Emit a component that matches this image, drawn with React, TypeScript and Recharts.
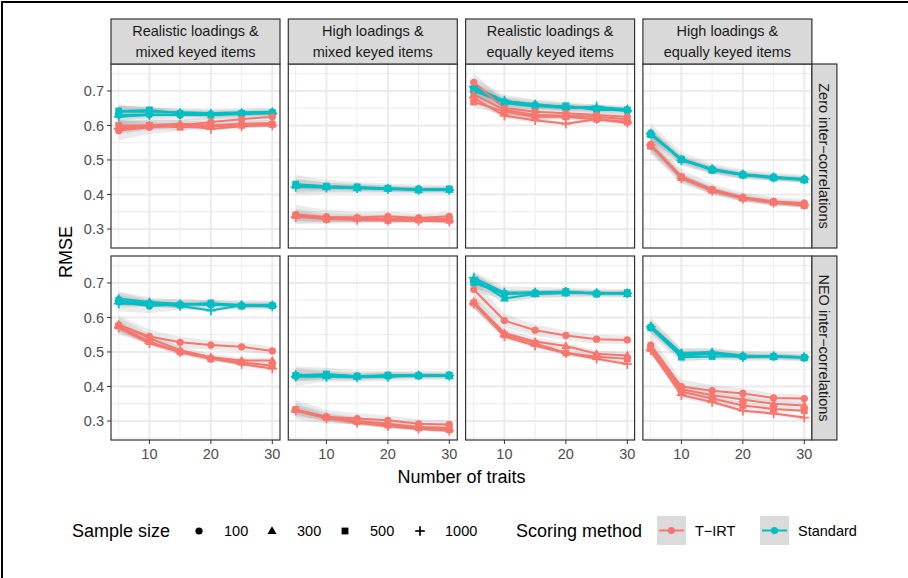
import React from "react";
import { Area, CartesianGrid, ComposedChart, Line, XAxis, YAxis } from "recharts";

const traitCounts = [5, 10, 15, 20, 25, 30];
const sampleSizes = ["100", "300", "500", "1000"];
const scoringMethods = ["T−IRT", "Standard"];
const columnLabels = [
    ["Realistic loadings &", "mixed keyed items"],
    ["High loadings &", "mixed keyed items"],
    ["Realistic loadings &", "equally keyed items"],
    ["High loadings &", "equally keyed items"],
];
const rowLabels = ["Zero inter−correlations", "NEO inter−correlations"];
const yTicks = [0.3, 0.4, 0.5, 0.6, 0.7];
const yMinorTicks = [0.25, 0.35, 0.45, 0.55, 0.65, 0.75];
const xTicks = [10, 20, 30];
const xMinorTicks = [5, 15, 25];

// rows: sample size 100, 300, 500, 1000 ; columns: traitCounts
const zeroRealMixedTirt = [
    [0.585, 0.595, 0.600, 0.610, 0.618, 0.625],
    [0.595, 0.600, 0.605, 0.600, 0.605, 0.607],
    [0.600, 0.600, 0.595, 0.598, 0.600, 0.603],
    [0.590, 0.598, 0.602, 0.590, 0.598, 0.600],
];
const zeroRealMixedStd = [
    [0.630, 0.632, 0.630, 0.632, 0.635, 0.638],
    [0.640, 0.640, 0.638, 0.636, 0.638, 0.640],
    [0.642, 0.645, 0.635, 0.630, 0.635, 0.637],
    [0.625, 0.630, 0.632, 0.630, 0.633, 0.635],
];
const zeroHighMixedTirt = [
    [0.342, 0.335, 0.333, 0.337, 0.332, 0.337],
    [0.338, 0.333, 0.332, 0.330, 0.330, 0.330],
    [0.340, 0.328, 0.330, 0.325, 0.326, 0.325],
    [0.335, 0.330, 0.326, 0.325, 0.324, 0.322],
];
const zeroHighMixedStd = [
    [0.428, 0.423, 0.420, 0.418, 0.416, 0.415],
    [0.425, 0.421, 0.418, 0.417, 0.414, 0.414],
    [0.430, 0.424, 0.422, 0.418, 0.413, 0.416],
    [0.422, 0.420, 0.418, 0.415, 0.414, 0.413],
];
const zeroRealEqualTirt = [
    [0.725, 0.650, 0.640, 0.635, 0.630, 0.625],
    [0.690, 0.645, 0.630, 0.628, 0.625, 0.618],
    [0.668, 0.640, 0.625, 0.625, 0.618, 0.610],
    [0.680, 0.628, 0.615, 0.605, 0.618, 0.608],
];
const zeroRealEqualStd = [
    [0.710, 0.668, 0.660, 0.655, 0.648, 0.642],
    [0.705, 0.670, 0.662, 0.652, 0.652, 0.648],
    [0.700, 0.665, 0.655, 0.657, 0.645, 0.645],
    [0.712, 0.672, 0.658, 0.650, 0.655, 0.643],
];
const zeroHighEqualTirt = [
    [0.545, 0.452, 0.415, 0.392, 0.380, 0.375],
    [0.542, 0.448, 0.412, 0.390, 0.378, 0.372],
    [0.540, 0.450, 0.413, 0.389, 0.377, 0.368],
    [0.543, 0.447, 0.410, 0.388, 0.376, 0.370],
];
const zeroHighEqualStd = [
    [0.578, 0.503, 0.474, 0.459, 0.451, 0.445],
    [0.575, 0.500, 0.472, 0.457, 0.450, 0.443],
    [0.573, 0.502, 0.470, 0.456, 0.448, 0.442],
    [0.576, 0.499, 0.473, 0.458, 0.449, 0.444],
];
const neoRealMixedTirt = [
    [0.578, 0.545, 0.528, 0.520, 0.515, 0.503],
    [0.580, 0.540, 0.505, 0.485, 0.475, 0.475],
    [0.575, 0.530, 0.500, 0.480, 0.470, 0.460],
    [0.570, 0.525, 0.500, 0.482, 0.465, 0.452],
];
const neoRealMixedStd = [
    [0.645, 0.633, 0.638, 0.636, 0.635, 0.635],
    [0.655, 0.645, 0.640, 0.640, 0.637, 0.637],
    [0.650, 0.640, 0.636, 0.642, 0.633, 0.634],
    [0.640, 0.640, 0.633, 0.620, 0.635, 0.632],
];
const neoHighMixedTirt = [
    [0.333, 0.312, 0.307, 0.302, 0.292, 0.290],
    [0.332, 0.312, 0.300, 0.292, 0.283, 0.280],
    [0.333, 0.310, 0.298, 0.288, 0.280, 0.275],
    [0.330, 0.308, 0.295, 0.285, 0.277, 0.272],
];
const neoHighMixedStd = [
    [0.430, 0.434, 0.430, 0.430, 0.432, 0.432],
    [0.435, 0.430, 0.428, 0.432, 0.433, 0.430],
    [0.432, 0.436, 0.430, 0.433, 0.431, 0.433],
    [0.428, 0.428, 0.427, 0.428, 0.432, 0.431],
];
const neoRealEqualTirt = [
    [0.681, 0.591, 0.563, 0.548, 0.537, 0.535],
    [0.645, 0.555, 0.530, 0.517, 0.495, 0.490],
    [0.642, 0.550, 0.525, 0.497, 0.486, 0.480],
    [0.640, 0.545, 0.518, 0.497, 0.480, 0.465],
];
const neoRealEqualStd = [
    [0.705, 0.670, 0.672, 0.672, 0.670, 0.670],
    [0.712, 0.655, 0.668, 0.670, 0.672, 0.668],
    [0.700, 0.668, 0.670, 0.675, 0.668, 0.672],
    [0.715, 0.672, 0.672, 0.674, 0.670, 0.670],
];
const neoHighEqualTirt = [
    [0.520, 0.400, 0.388, 0.380, 0.367, 0.365],
    [0.515, 0.392, 0.375, 0.362, 0.350, 0.345],
    [0.510, 0.385, 0.365, 0.345, 0.335, 0.330],
    [0.505, 0.375, 0.355, 0.330, 0.322, 0.310],
];
const neoHighEqualStd = [
    [0.572, 0.490, 0.495, 0.488, 0.488, 0.485],
    [0.575, 0.497, 0.500, 0.490, 0.487, 0.484],
    [0.570, 0.485, 0.487, 0.487, 0.486, 0.483],
    [0.573, 0.495, 0.497, 0.485, 0.488, 0.485],
];

// half width of the grey bands, by sample size
const ribbonHalfWidth = [
    [0.028, 0.020, 0.016, 0.014, 0.013, 0.012],
    [0.020, 0.013, 0.011, 0.010, 0.009, 0.009],
    [0.015, 0.010, 0.009, 0.008, 0.007, 0.007],
    [0.012, 0.008, 0.007, 0.006, 0.006, 0.006],
];

const panels = [
    { row: 0, col: 0, tirt: zeroRealMixedTirt, std: zeroRealMixedStd },
    { row: 0, col: 1, tirt: zeroHighMixedTirt, std: zeroHighMixedStd },
    { row: 0, col: 2, tirt: zeroRealEqualTirt, std: zeroRealEqualStd },
    { row: 0, col: 3, tirt: zeroHighEqualTirt, std: zeroHighEqualStd },
    { row: 1, col: 0, tirt: neoRealMixedTirt, std: neoRealMixedStd },
    { row: 1, col: 1, tirt: neoHighMixedTirt, std: neoHighMixedStd },
    { row: 1, col: 2, tirt: neoRealEqualTirt, std: neoRealEqualStd },
    { row: 1, col: 3, tirt: neoHighEqualTirt, std: neoHighEqualStd },
];

const RED = "#F8766D";
const TEAL = "#00BFC4";
const FONT = "'Liberation Sans', Arial, Helvetica, sans-serif";

const PANEL_LEFT = 111;
const PANEL_STEP = 177.3;
const PANEL_W = 169;
const PANEL_TOP = 64;
const ROW_STEP = 192;
const PANEL_H = 184;
const STRIP_H = 45;
const SIDE_STRIP_W = 25;
const Y_AXIS_W = 36;
const X_AXIS_H = 28;
const LINE_W = 2;

const Marker = ({ shape, cx, cy, color }: { shape: number; cx: number; cy: number; color: string }) => {
    if (shape === 0) return <circle cx={cx} cy={cy} r={3.6} fill={color} />;
    if (shape === 1)
        return <polygon points={`${cx},${cy - 4.8} ${cx + 4.5},${cy + 3} ${cx - 4.5},${cy + 3}`} fill={color} />;
    if (shape === 2) return <rect x={cx - 3.4} y={cy - 3.4} width={6.8} height={6.8} fill={color} />;
    return (
        <g stroke={color} strokeWidth={1.7}>
            <line x1={cx - 4.8} x2={cx + 4.8} y1={cy} y2={cy} />
            <line x1={cx} x2={cx} y1={cy - 4.8} y2={cy + 4.8} />
        </g>
    );
};

const makeDot = (shape: number, color: string) => (props: any) => {
    const { cx, cy, index } = props;
    if (cx == null || cy == null) return <g key={`d-${index}`} />;
    return (
        <g key={`d-${index}`}>
            <Marker shape={shape} cx={cx} cy={cy} color={color} />
        </g>
    );
};

const Panel = ({ row, col, tirt, std }: any) => {
    const showY = col === 0;
    const showX = row === 1;
    const yw = showY ? Y_AXIS_W : 0;
    const xh = showX ? X_AXIS_H : 0;

    const data = traitCounts.map((x, i) => {
        const d: any = { x };
        sampleSizes.forEach((s, k) => {
            const h = ribbonHalfWidth[k][i];
            d[`t${s}`] = tirt[k][i];
            d[`s${s}`] = std[k][i];
            d[`tr${s}`] = [tirt[k][i] - h, tirt[k][i] + h];
            d[`sr${s}`] = [std[k][i] - h, std[k][i] + h];
        });
        return d;
    });

    return (
        <div style={{ position: "absolute", left: PANEL_LEFT + col * PANEL_STEP - yw, top: PANEL_TOP + row * ROW_STEP }}>
            <ComposedChart
                width={PANEL_W + yw}
                height={PANEL_H + xh}
                data={data}
                margin={{ top: 0, right: 0, bottom: 0, left: 0 }}
            >
                <CartesianGrid
                    horizontalValues={yMinorTicks}
                    verticalValues={xMinorTicks}
                    stroke="#EDEDED"
                    strokeWidth={1}
                />
                <CartesianGrid horizontalValues={yTicks} verticalValues={xTicks} stroke="#EBEBEB" strokeWidth={2} />
                <XAxis
                    type="number"
                    dataKey="x"
                    domain={[3.75, 31.25]}
                    ticks={xTicks}
                    hide={!showX}
                    height={xh}
                    axisLine={false}
                    tickSize={4}
                    tickMargin={5}
                    tickLine={{ stroke: "#333333" }}
                    tick={{ fill: "#4D4D4D", fontSize: 14.5 }}
                    allowDataOverflow
                />
                <YAxis
                    type="number"
                    domain={[0.245, 0.778]}
                    ticks={yTicks}
                    hide={!showY}
                    width={yw}
                    axisLine={false}
                    tickSize={4}
                    tickMargin={3}
                    tickLine={{ stroke: "#333333" }}
                    tick={{ fill: "#4D4D4D", fontSize: 14.5 }}
                    tickFormatter={(v: number) => v.toFixed(1)}
                    allowDataOverflow
                />
                {sampleSizes.map((s) => (
                    <Area
                        key={`sr${s}`}
                        type="linear"
                        dataKey={`sr${s}`}
                        stroke="none"
                        fill="#999999"
                        fillOpacity={0.2}
                        isAnimationActive={false}
                        activeDot={false}
                    />
                ))}
                {sampleSizes.map((s) => (
                    <Area
                        key={`tr${s}`}
                        type="linear"
                        dataKey={`tr${s}`}
                        stroke="none"
                        fill="#999999"
                        fillOpacity={0.2}
                        isAnimationActive={false}
                        activeDot={false}
                    />
                ))}
                {sampleSizes.map((s, k) => (
                    <Line
                        key={`s${s}`}
                        type="linear"
                        dataKey={`s${s}`}
                        stroke={TEAL}
                        strokeWidth={LINE_W}
                        dot={makeDot(k, TEAL)}
                        activeDot={false}
                        isAnimationActive={false}
                    />
                ))}
                {sampleSizes.map((s, k) => (
                    <Line
                        key={`t${s}`}
                        type="linear"
                        dataKey={`t${s}`}
                        stroke={RED}
                        strokeWidth={LINE_W}
                        dot={makeDot(k, RED)}
                        activeDot={false}
                        isAnimationActive={false}
                    />
                ))}
            </ComposedChart>
        </div>
    );
};

const legendSizeX = [199, 272, 345, 420];
const legendSizeTextX = [224, 297, 370, 445];

const Overlay = () => {
    const lastRight = PANEL_LEFT + 3 * PANEL_STEP + PANEL_W;
    const plotMidX = (PANEL_LEFT + lastRight) / 2;
    const plotMidY = PANEL_TOP + (ROW_STEP + PANEL_H) / 2;
    return (
        <svg
            width={908}
            height={578}
            style={{ position: "absolute", left: 0, top: 0, pointerEvents: "none" }}
            fontFamily={FONT}
        >
            {panels.map((p) => (
                <rect
                    key={`b${p.row}${p.col}`}
                    x={PANEL_LEFT + p.col * PANEL_STEP}
                    y={PANEL_TOP + p.row * ROW_STEP}
                    width={PANEL_W}
                    height={PANEL_H}
                    fill="none"
                    stroke="#333333"
                    strokeWidth={1.2}
                />
            ))}
            {columnLabels.map((lines, c) => {
                const x = PANEL_LEFT + c * PANEL_STEP;
                return (
                    <g key={`cs${c}`}>
                        <rect
                            x={x}
                            y={PANEL_TOP - STRIP_H}
                            width={PANEL_W}
                            height={STRIP_H}
                            fill="#D9D9D9"
                            stroke="#333333"
                            strokeWidth={1.2}
                        />
                        {lines.map((t, i) => (
                            <text
                                key={i}
                                x={x + PANEL_W / 2}
                                y={PANEL_TOP - STRIP_H + 12 + i * 21}
                                textAnchor="middle"
                                dominantBaseline="central"
                                fontSize={14.5}
                                fill="#1A1A1A"
                            >
                                {t}
                            </text>
                        ))}
                    </g>
                );
            })}
            {rowLabels.map((t, r) => {
                const y = PANEL_TOP + r * ROW_STEP;
                return (
                    <g key={`rs${r}`}>
                        <rect
                            x={lastRight}
                            y={y}
                            width={SIDE_STRIP_W}
                            height={PANEL_H}
                            fill="#D9D9D9"
                            stroke="#333333"
                            strokeWidth={1.2}
                        />
                        <text
                            transform={`translate(${lastRight + SIDE_STRIP_W / 2}, ${y + PANEL_H / 2}) rotate(90)`}
                            textAnchor="middle"
                            dominantBaseline="central"
                            fontSize={14.5}
                            fill="#1A1A1A"
                        >
                            {t}
                        </text>
                    </g>
                );
            })}
            <text
                transform={`translate(66, ${plotMidY}) rotate(-90)`}
                textAnchor="middle"
                dominantBaseline="central"
                fontSize={18}
                fill="#000"
            >
                RMSE
            </text>
            <text x={plotMidX} y={477} textAnchor="middle" dominantBaseline="central" fontSize={18} fill="#000">
                Number of traits
            </text>

            <text x={72} y={531} dominantBaseline="central" fontSize={18} fill="#000">
                Sample size
            </text>
            {sampleSizes.map((s, k) => (
                <g key={`ls${s}`}>
                    <Marker shape={k} cx={legendSizeX[k]} cy={531} color="#000" />
                    <text x={legendSizeTextX[k]} y={531} dominantBaseline="central" fontSize={14.5} fill="#000">
                        {s}
                    </text>
                </g>
            ))}

            <text x={516} y={531} dominantBaseline="central" fontSize={18} fill="#000">
                Scoring method
            </text>
            {scoringMethods.map((m, i) => {
                const bx = i === 0 ? 657 : 760;
                const color = i === 0 ? RED : TEAL;
                return (
                    <g key={`lm${i}`}>
                        <rect x={bx} y={516} width={29} height={29} fill="#EBEBEB" />
                        <rect x={bx} y={516} width={29} height={29} fill="#999999" fillOpacity={0.2} />
                        <line x1={bx + 2} x2={bx + 27} y1={530.5} y2={530.5} stroke={color} strokeWidth={LINE_W} />
                        <circle cx={bx + 14.5} cy={530.5} r={3.6} fill={color} />
                        <text x={bx + 38} y={531} dominantBaseline="central" fontSize={14.5} fill="#000">
                            {m}
                        </text>
                    </g>
                );
            })}
        </svg>
    );
};

export default function App() {
    return (
        <div
            style={{
                position: "absolute",
                left: 0,
                top: 0,
                width: 908,
                height: 578,
                background: "#fff",
                overflow: "hidden",
                fontFamily: FONT,
            }}
        >
            <div
                style={{
                    position: "absolute",
                    left: 1,
                    top: 1,
                    width: 920,
                    height: 600,
                    borderTop: "2px solid #000",
                    borderLeft: "2px solid #000",
                }}
            />
            {panels.map((p) => (
                <Panel key={`p${p.row}${p.col}`} {...p} />
            ))}
            <Overlay />
        </div>
    );
}
